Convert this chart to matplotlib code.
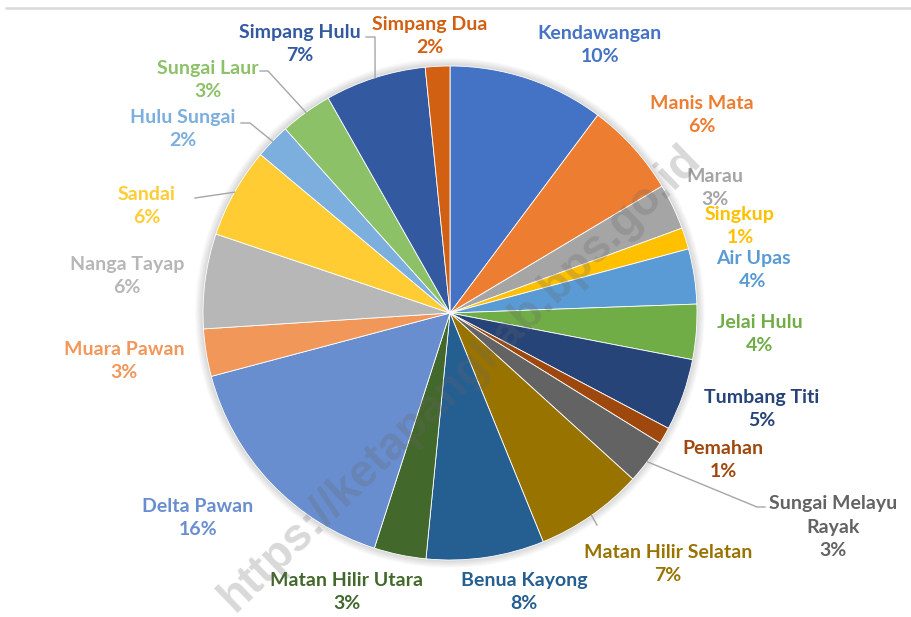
import matplotlib
matplotlib.use("Agg")
import matplotlib.pyplot as plt
from matplotlib.patches import Circle
import numpy as np

# ---- data ----
districts = ["Kendawangan", "Manis Mata", "Marau", "Singkup", "Air Upas", "Jelai Hulu",
             "Tumbang Titi", "Pemahan", "Sungai Melayu\nRayak", "Matan Hilir Selatan",
             "Benua Kayong", "Matan Hilir Utara", "Delta Pawan", "Muara Pawan",
             "Nanga Tayap", "Sandai", "Hulu Sungai", "Sungai Laur", "Simpang Hulu",
             "Simpang Dua"]
shares = [10.2, 6.2, 3.0, 1.4, 3.6, 3.6, 4.7, 1.1, 2.9, 7.1,
          7.7, 3.4, 15.9, 3.1, 6.2, 5.9, 2.3, 3.4, 6.6, 1.6]
colors = ["#4472C4", "#ED7D31", "#A5A5A5", "#FFC000", "#5B9BD5", "#70AD47",
          "#264478", "#9E480E", "#636363", "#997300", "#255E91", "#43682B",
          "#698ED0", "#F1975A", "#B7B7B7", "#FFCD33", "#7CAFDD", "#8CC168",
          "#335AA1", "#D26012"]

# ---- layout (pixel positions of label centres) ----
W, H = 912, 617
CX, CY, R = 450, 313, 247
label_px = [(600, 45), (702, 115), (715, 188), (740, 226), (753, 270), (760, 334),
            (762, 409), (723, 460), (833, 527), (668, 564), (524, 592), (347, 592),
            (198, 518), (124, 361), (127, 276), (147, 206), (183, 129), (208, 80),
            (300, 44), (430, 36)]
# leader lines: index -> (elbow point px, label-side end px)
leaders = {8: [(757, 507), (765, 507)],
           9: [(597, 525)],
           15: [(195, 198)],
           16: [(250, 123), (241, 123)],
           17: [(268, 71), (260, 71)],
           18: [(375, 37), (366, 37)]}

def to_data(px, py):
    return (px - CX) / R, (CY - py) / R

plt.rcParams['font.family'] = ['Lato', 'DejaVu Sans']
fig = plt.figure(figsize=(W / 100, H / 100), dpi=100)
ax = fig.add_axes([0, 0, 1, 1])

# soft shadow around the pie
for k in range(8):
    ax.add_patch(Circle((0, 0), 1.0 + 0.004 * (k + 1), facecolor="black",
                        edgecolor="none", alpha=0.018, zorder=0))

total = sum(shares)
wedges, _ = ax.pie(shares, colors=colors, startangle=90, counterclock=False,
                   radius=1.0, wedgeprops=dict(edgecolor="white", linewidth=0.6))

ax.set_xlim(-CX / R, (W - CX) / R)
ax.set_ylim((CY - H) / R, CY / R)
ax.set_aspect('auto')
ax.axis('off')

# top border line
ax.plot([to_data(5, 8)[0], to_data(912, 8)[0]], [to_data(5, 8)[1]] * 2,
        color="#D9D9D9", lw=1.8, solid_capstyle='butt', clip_on=False)

cum = 0.0
for i, (name, v, c) in enumerate(zip(districts, shares, colors)):
    mid = 90 - 360 * (cum + v / 2) / total
    cum += v
    pct = v / total * 100
    lx, ly = to_data(*label_px[i])
    ax.text(lx, ly, f"{name}\n{pct:.0f}%", ha="center", va="center", color=c,
            fontsize=14, fontweight="bold", linespacing=1.45)
    if i in leaders:
        ex, ey = np.cos(np.radians(mid)), np.sin(np.radians(mid))
        pts = [(ex, ey)] + [to_data(*p) for p in leaders[i]]
        xs, ys = zip(*pts)
        ax.plot(xs, ys, color="#A6A6A6", lw=1.0)

# watermark
wx, wy = to_data(460, 378)
ax.text(wx, wy, "https://ketapangkab.bps.go.id", rotation=44, ha="center", va="center",
        fontsize=33, fontweight="bold", family="Liberation Sans",
        color=(0.4, 0.4, 0.4), alpha=0.25, rotation_mode="anchor")

fig.savefig("out.png", dpi=100)
